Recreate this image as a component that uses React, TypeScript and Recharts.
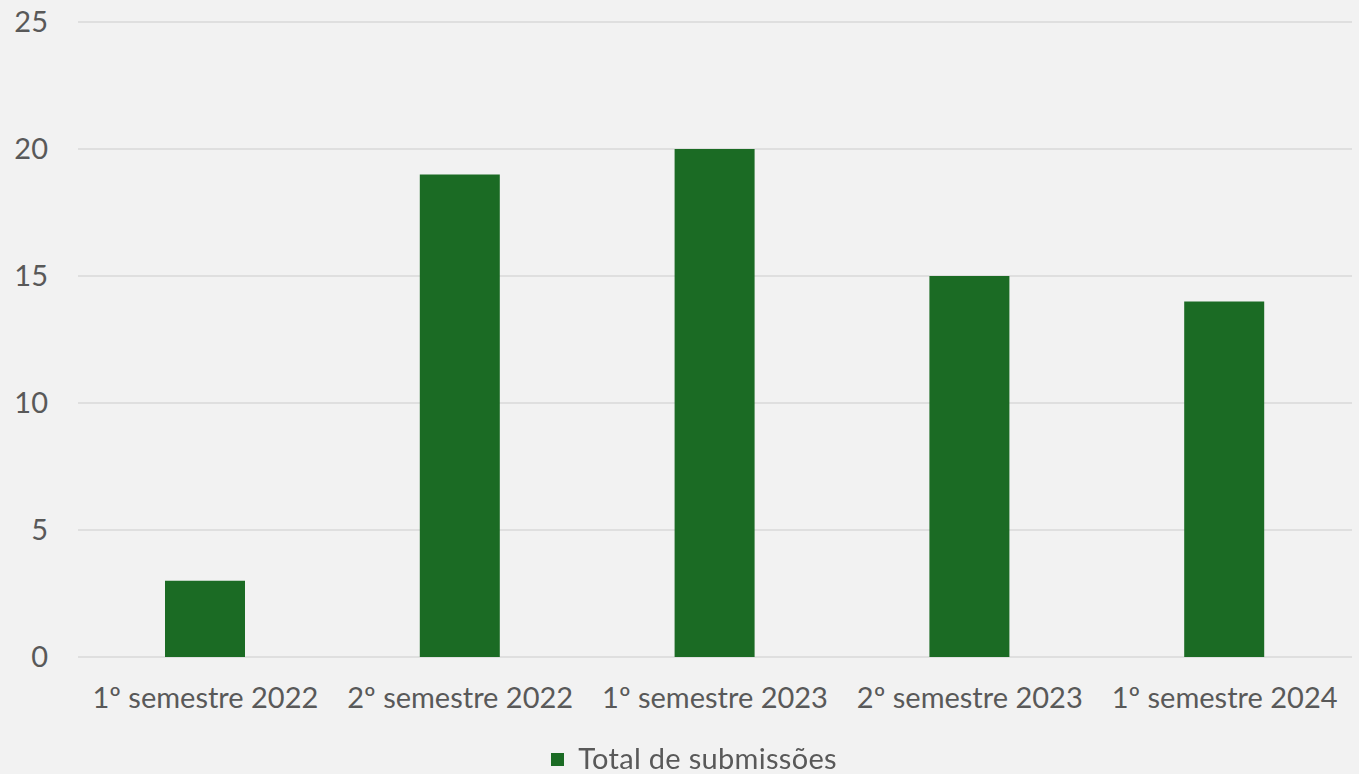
import React from "react";
import { BarChart, Bar, XAxis, YAxis, CartesianGrid, Legend } from "recharts";

const categories = ["1º semestre 2022", "2º semestre 2022", "1º semestre 2023", "2º semestre 2023", "1º semestre 2024"];
const submissions = [3, 19, 20, 15, 14];
const yTicks = [0, 5, 10, 15, 20, 25];
const seriesName = "Total de submissões";

const data = categories.map((c, i) => ({ name: c, value: submissions[i] }));

const FONT = "Lato, 'Open Sans', sans-serif";
const TEXT = "#595959";
const GREEN = "#1B6B24";

const LegendContent = () => (
  <div style={{ height: 37, display: "flex", justifyContent: "center", alignItems: "flex-end", fontFamily: FONT, fontSize: 29, color: TEXT, lineHeight: "32px", paddingLeft: 36 }}>
    <span style={{ display: "inline-block", width: 13, height: 13, background: GREEN, marginRight: 14, marginBottom: 8 }} />
    <span style={{ letterSpacing: 0.3 }}>{seriesName}</span>
  </div>
);

export default function App() {
  return (
    <div style={{ position: "fixed", left: 0, top: 0, width: 1359, height: 774, background: "#F2F2F2" }}>
      <BarChart width={1359} height={774} data={data} margin={{ top: 22, right: 7, bottom: 0, left: 0 }} barCategoryGap={0}>
        <CartesianGrid vertical={false} stroke="#D9D9D9" strokeWidth={1.5} />
        <XAxis dataKey="name" axisLine={false} tickLine={false} tickSize={0} tickMargin={30} height={80} interval={0}
          tick={{ fill: TEXT, fontSize: 29, fontFamily: FONT }} />
        <YAxis domain={[0, 25]} ticks={yTicks} axisLine={false} tickLine={false} tickSize={0} tickMargin={30} width={78}
          tick={{ fill: TEXT, fontSize: 29, fontFamily: FONT }} />
        <Legend verticalAlign="bottom" content={<LegendContent />} />
        <Bar dataKey="value" name={seriesName} fill={GREEN} barSize={80} isAnimationActive={false} />
      </BarChart>
    </div>
  );
}
